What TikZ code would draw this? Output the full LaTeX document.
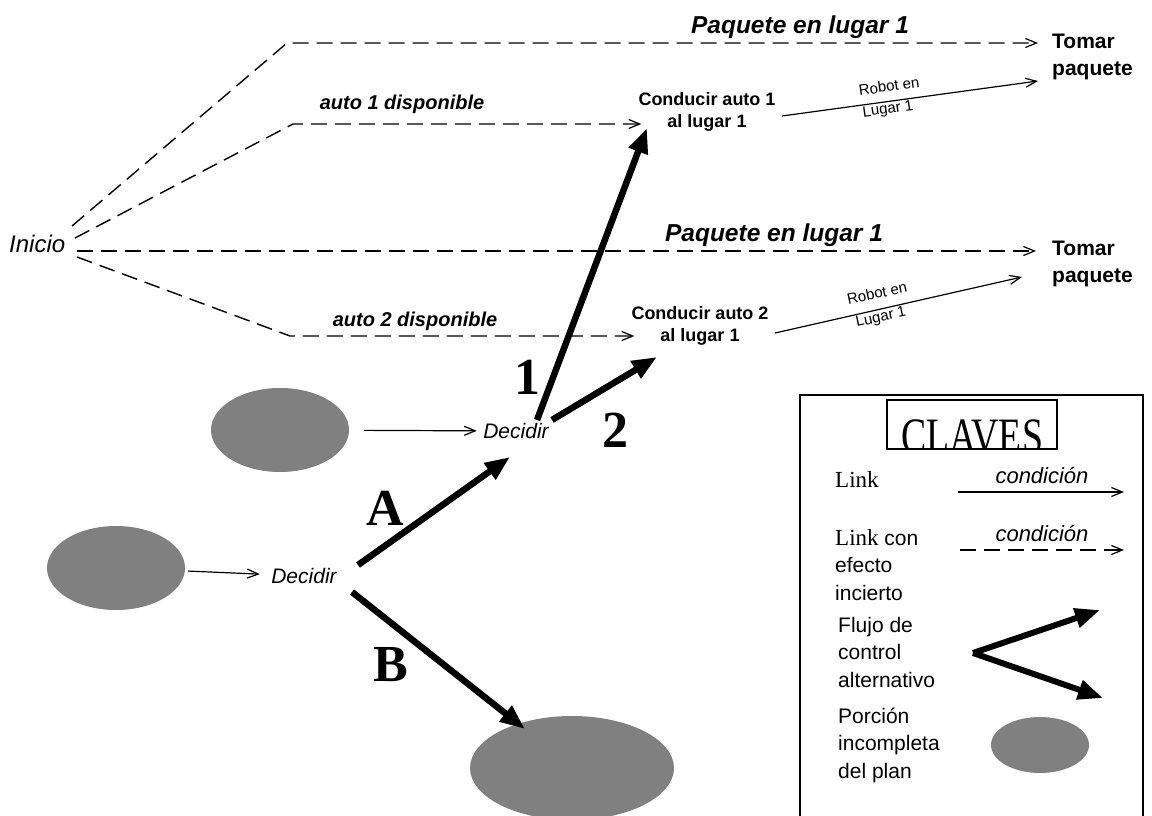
\documentclass[tikz,border=0pt]{standalone}
\usepackage{fontspec}
\setmainfont{Liberation Serif}
\setsansfont{Liberation Sans}
\usetikzlibrary{arrows.meta,shapes.geometric}
\definecolor{plangray}{RGB}{128,128,128}
\begin{document}
\begin{tikzpicture}[x=1pt,y=-1pt,
  dlink/.style={line width=1.4pt, dash pattern=on 16pt off 8pt,
    -{Straight Barb[length=11pt,width=9pt,line width=1.2pt]}},
  slink/.style={line width=1.2pt, -{Straight Barb[length=11pt,width=9pt]}},
  flow/.style={line width=6.5pt, -{Triangle[length=25pt,width=19pt]}},
  blob/.style={ellipse, fill=plangray, draw=none, inner sep=0pt},
  cond/.style={font=\sffamily\bfseries\itshape\fontsize{20}{24}\selectfont, inner sep=0pt, anchor=base},
  condbig/.style={cond, font=\sffamily\bfseries\itshape\fontsize{24.5}{28}\selectfont},
  act/.style={font=\sffamily\bfseries\fontsize{18}{22}\selectfont, align=center, inner sep=0pt},
  goal/.style={font=\sffamily\bfseries\fontsize{21}{27}\selectfont, align=left, inner sep=0pt, anchor=west},
  dec/.style={font=\sffamily\itshape\fontsize{21}{24}\selectfont},
  small/.style={font=\sffamily\fontsize{15}{18}\selectfont, inner sep=0pt},
  big/.style={font=\bfseries\fontsize{52}{52}\selectfont, inner sep=0pt},
  keytxt/.style={font=\sffamily\fontsize{21}{27.5}\selectfont, align=left, inner sep=0pt, anchor=west},
  keycond/.style={font=\sffamily\itshape\fontsize{22}{26}\selectfont, inner sep=0pt}
]
\useasboundingbox (0,0) rectangle (1152,816);
\clip (0,0) rectangle (1152,816);

% text nodes of the plan
\node[dec, anchor=west, inner sep=0pt, font=\sffamily\itshape\fontsize{24}{28}\selectfont] (inicio) at (9,244) {Inicio};
\node[goal] (tomarA) at (1052,57) {Tomar\\paquete};
\node[goal] (tomarB) at (1052,264) {Tomar\\paquete};
\node[act] (condA) at (707,112) {Conducir auto 1\\al lugar 1};
\node[act] (condB) at (700,326) {Conducir auto 2\\al lugar 1};
\node[dec] (decA) at (516,431) {Decidir};
\node[dec] (decB) at (304,576) {Decidir};

% incomplete parts of the plan
\node[blob, minimum width=138pt, minimum height=84pt] (blobA) at (280,430) {};
\node[blob, minimum width=138pt, minimum height=84pt] (blobB) at (116,568) {};
\node[blob, minimum width=204pt, minimum height=104pt] (blobC) at (572,768) {};

% uncertain links leaving Inicio
\coordinate (i1) at (72,226);  \coordinate (k1) at (287,43);
\coordinate (i2) at (75,238);  \coordinate (k2) at (293,124);
\coordinate (i3) at (77,251);
\coordinate (i4) at (77,257);  \coordinate (k4) at (290,336);
\draw[dlink, shorten >=14pt] (i1) -- (k1) -- (k1 -| tomarA.west);
\draw[dlink, shorten >=-3pt] (i2) -- (k2) -- (k2 -| condA.west);
\draw[dlink, shorten >=16pt] (i3) -- (i3 -| tomarB.west);
\draw[dlink, shorten >=-3pt] (i4) -- (k4) -- (k4 -| condB.west);

\node[condbig] (pq1) at (800,34) {Paquete en lugar 1};
\node[cond] (au1) at (402,110) {auto 1 disponible};
\node[condbig] (pq2) at (774,241) {Paquete en lugar 1};
\node[cond] (au2) at (415,326) {auto 2 disponible};

% links from driving to picking up
\coordinate (r1s) at (782,116); \coordinate (r1e) at (1038,81);
\coordinate (r2s) at (775,333); \coordinate (r2e) at (1022,277);
\draw[slink] (r1s) -- (r1e);
\draw[slink] (r2s) -- (r2e);
\node[small, rotate=8] (rb1) at (889,86) {Robot en};
\node[small, rotate=8] (lg1) at (888,110) {Lugar 1};
\node[small, rotate=12] (rb2) at (877,293) {Robot en};
\node[small, rotate=12] (lg2) at (881,318) {Lugar 1};

% links into the decisions
\draw[slink, shorten <=15pt, shorten >=3pt] (blobA) -- (decA);
\draw[slink, shorten <=3pt, shorten >=8pt] (blobB) -- (decB);

% alternative control flow
\coordinate (a1s) at (537,420); \coordinate (a1e) at (647,128);
\coordinate (a2s) at (552,420); \coordinate (a2e) at (657,357);
\coordinate (aAs) at (358,565); \coordinate (aAe) at (510,457);
\coordinate (aBs) at (352,592); \coordinate (aBe) at (525,729);
\draw[flow] (a1s) -- (a1e);
\draw[flow] (a2s) -- (a2e);
\draw[flow] (aAs) -- (aAe);
\draw[flow] (aBs) -- (aBe);
\node[big] (n1) at (527,377) {1};
\node[big] (n2) at (615,430) {2};
\node[big] (nA) at (385,508) {A};
\node[big] (nB) at (391,665) {B};

% key
\draw[line width=1.2pt] (800,395) rectangle (1143,830);
\draw[line width=1.2pt] (887,400) rectangle (1057,449);
\begin{scope}
  \clip (887,400) rectangle (1057,449);
  \node[inner sep=0pt, anchor=base] (claves) at (972,453)
    {\scalebox{0.74}[1]{\fontsize{51}{51}\selectfont CLAVES}};
\end{scope}
\node[inner sep=0pt, anchor=west, font=\fontsize{23}{26}\selectfont] (klink) at (835,480) {Link};
\node[keycond] (kc1) at (1042,476) {condición};
\coordinate (l1s) at (958,492); \coordinate (l1e) at (1124,492);
\draw[slink] (l1s) -- (l1e);
\node[keytxt] (klink2) at (835,565) {{\rmfamily\fontsize{23}{27.5}\selectfont Link} con\\efecto\\incierto};
\node[keycond] (kc2) at (1042,534) {condición};
\coordinate (l2s) at (960,550); \coordinate (l2e) at (1124,550);
\draw[dlink] (l2s) -- (l2e);
\node[keytxt] (kflow) at (838,652) {Flujo de\\control\\alternativo};
\coordinate (kv) at (973,653);
\coordinate (ku) at (1100,610);
\coordinate (kd) at (1103,698);
\draw[flow, line width=6pt] (kv) -- (ku);
\draw[flow, line width=6pt] (kv) -- (kd);
\node[keytxt] (kpart) at (838,745) {Porción\\incompleta\\del plan};
\node[blob, minimum width=98pt, minimum height=56pt] (kblob) at (1040,745) {};
\end{tikzpicture}
\end{document}
